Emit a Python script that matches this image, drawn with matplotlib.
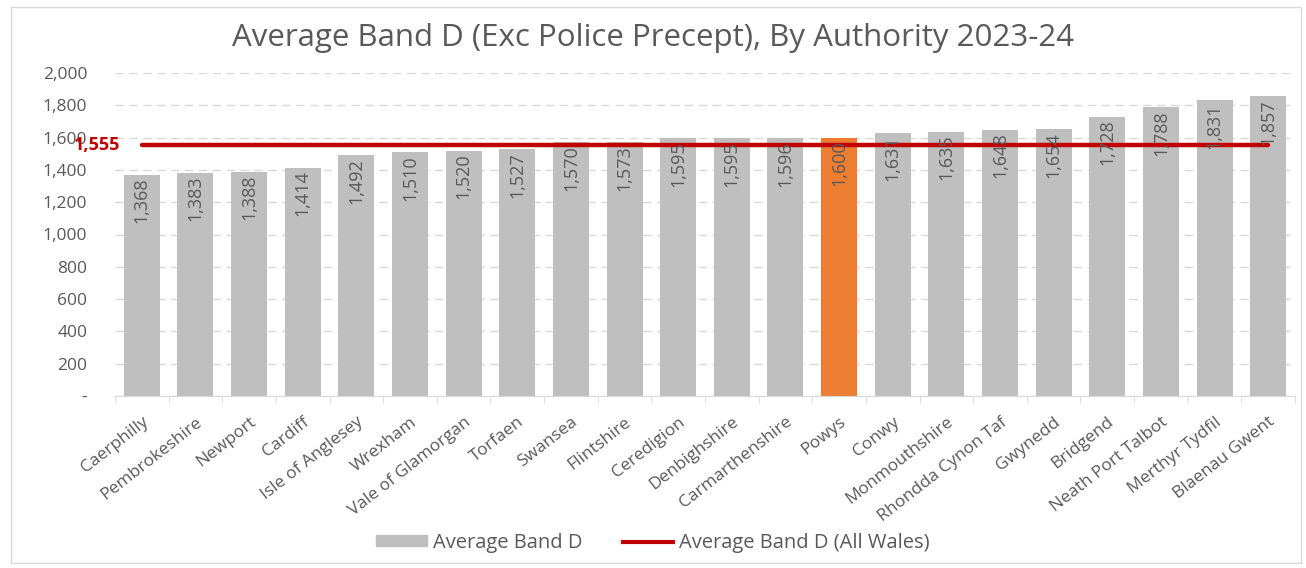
import numpy as np
import matplotlib.pyplot as plt
from matplotlib.patches import Patch, Rectangle
from matplotlib.lines import Line2D

# data
authorities = ['Caerphilly', 'Pembrokeshire', 'Newport', 'Cardiff', 'Isle of Anglesey',
               'Wrexham', 'Vale of Glamorgan', 'Torfaen', 'Swansea', 'Flintshire',
               'Ceredigion', 'Denbighshire', 'Carmarthenshire', 'Powys', 'Conwy',
               'Monmouthshire', 'Rhondda Cynon Taf', 'Gwynedd', 'Bridgend',
               'Neath Port Talbot', 'Merthyr Tydfil', 'Blaenau Gwent']
band_d = [1368, 1383, 1388, 1414, 1492, 1510, 1520, 1527, 1570, 1573, 1595, 1595,
          1596, 1600, 1631, 1635, 1648, 1654, 1728, 1788, 1831, 1857]
all_wales = 1555
highlight = 'Powys'

grey = '#bfbfbf'
orange = '#ed7d31'
red = '#c00000'
txt = '#595959'
plt.rcParams['font.family'] = ['Open Sans', 'DejaVu Sans']

fig = plt.figure(figsize=(13.06, 5.68), dpi=100)
ax = fig.add_axes([115/1306, 1 - 396/568, (1295-115)/1306, (396-73)/568])

x = np.arange(len(authorities))
colors = [orange if a == highlight else grey for a in authorities]
bars = ax.bar(x, band_d, width=0.67, color=colors, zorder=2)
ax.plot(x, [all_wales] * len(x), color=red, lw=3.2, zorder=3, solid_capstyle='round')

# value labels inside the top of each bar
for b, v in zip(bars, band_d):
    ax.text(b.get_x() + b.get_width() / 2, v - 18, f'{v:,}', rotation=90,
            ha='center', va='top', fontsize=13, color=txt,
            family=['Liberation Sans Narrow', 'Open Sans'], zorder=4)

ax.text(-0.4, all_wales, f'{all_wales:,}', color=red, fontweight='bold', fontsize=13,
        ha='right', va='center', zorder=5)

ax.set_xlim(-0.5, len(x) - 0.5)
ax.set_ylim(0, 2000)
ax.set_yticks(range(0, 2001, 200))
ax.set_yticklabels(['-'] + [f'{v:,}' for v in range(200, 2001, 200)], fontsize=12.5, color=txt)
ax.yaxis.grid(True, color='#d9d9d9', linestyle=(0, (6, 4)), lw=1)
ax.set_axisbelow(True)
ax.tick_params(axis='y', length=0, pad=20)

ax.set_xticks(x)
ax.set_xticklabels(authorities, rotation=38, ha='right', rotation_mode='anchor',
                   fontsize=12.5, color=txt)
ax.tick_params(axis='x', length=0, pad=13)
ax.set_xticks(np.arange(-0.5, len(x)), minor=True)
ax.tick_params(axis='x', which='minor', length=5, color='#d9d9d9')

for s in ['top', 'right', 'left']:
    ax.spines[s].set_visible(False)
ax.spines['bottom'].set_color('#d9d9d9')

fig.text(0.5, 1 - 38/568, 'Average Band D (Exc Police Precept), By Authority 2023-24',
         ha='center', va='center', fontsize=22.5, color=txt)

handles = [Patch(color=grey, label='Average Band D'),
           Line2D([0], [0], color=red, lw=3, label='Average Band D (All Wales)')]
fig.legend(handles=handles, loc='center', bbox_to_anchor=(0.5, 1 - 543/568), ncol=2,
           frameon=False, fontsize=14.5, labelcolor=txt, handlelength=2.5,
           handleheight=0.45, handletextpad=0.3, columnspacing=2.0)

fig.add_artist(Rectangle((11/1306, 1 - 563/568), 1290/1306, 556/568, fill=False,
                         edgecolor='#d9d9d9', lw=1, transform=fig.transFigure))

fig.savefig('out.png', dpi=100)
